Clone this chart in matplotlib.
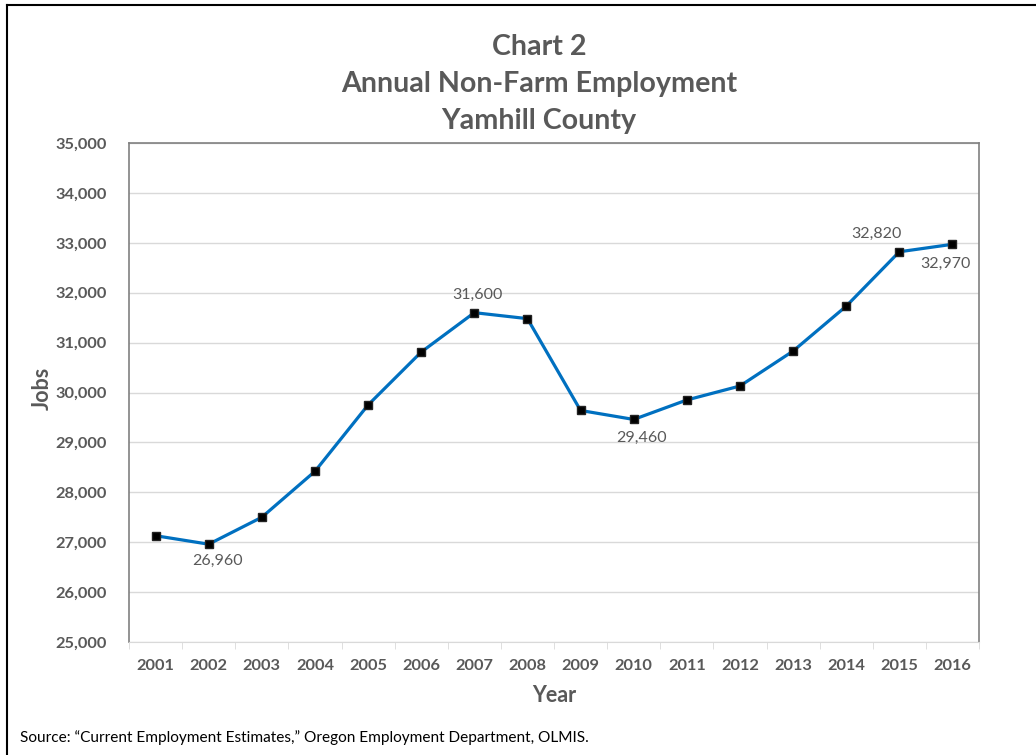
import matplotlib.pyplot as plt
from matplotlib.lines import Line2D
from matplotlib.ticker import FuncFormatter

# data
anos = ['2001', '2002', '2003', '2004', '2005', '2006', '2007', '2008',
        '2009', '2010', '2011', '2012', '2013', '2014', '2015', '2016']
empregos = [27130, 26960, 27500, 28420, 29750, 30810, 31600, 31480,
            29640, 29460, 29850, 30130, 30830, 31730, 32820, 32970]

# which points get a label, and where (pixel offsets)
rotulos = {'2002': (9, -17), '2007': (3, 18), '2010': (8, -18),
           '2015': (-23, 18), '2016': (-7, -20)}

cinza = '#595959'
plt.rcParams['font.family'] = ['Lato', 'DejaVu Sans']

fig = plt.figure(figsize=(10.36, 7.55), dpi=100)
ax = fig.add_axes([129 / 1036, 1 - 642 / 755, 850 / 1036, 499 / 755])

x = list(range(1, len(anos) + 1))
ax.plot(x, empregos, color='#0070C0', linewidth=2.3, zorder=2)
ax.plot(x, empregos, linestyle='none', marker='s', markersize=5.8,
        markerfacecolor='black', markeredgecolor='#222222', zorder=3)

for i, ano in enumerate(anos):
    if ano in rotulos:
        dx, dy = rotulos[ano]
        ax.annotate(f'{empregos[i]:,}', (x[i], empregos[i]),
                    xytext=(dx, dy), textcoords='offset pixels',
                    ha='center', va='center', fontsize=11.5, color=cinza)

ax.set_xlim(0.5, len(anos) + 0.5)
ax.set_ylim(25000, 35000)
ax.set_yticks(range(25000, 35001, 1000))
ax.yaxis.set_major_formatter(FuncFormatter(lambda v, p: f'{int(v):,}'))
ax.set_xticks(x)
ax.set_xticklabels(anos)
ax.set_xticks([i + 0.5 for i in range(len(anos) + 1)], minor=True)

ax.grid(axis='y', color='#D9D9D9', linewidth=1)
ax.set_axisbelow(True)
ax.tick_params(axis='x', which='major', length=0, pad=12)
ax.tick_params(axis='x', which='minor', length=5, color='#D9D9D9', direction='out')
ax.tick_params(axis='y', length=0, pad=16)
for lab in ax.get_xticklabels() + ax.get_yticklabels():
    lab.set_fontweight('bold')
    lab.set_fontsize(11.8)
    lab.set_color(cinza)

for lado in ['left', 'right', 'top']:
    ax.spines[lado].set_color('#808080')
    ax.spines[lado].set_linewidth(1.2)
ax.spines['bottom'].set_color('#D9D9D9')

fig.text(42 / 1036, 1 - 388 / 755, 'Jobs', rotation=90, ha='center', va='center',
         fontsize=15.5, fontweight='bold', color=cinza)
fig.text(554 / 1036, 1 - 696 / 755, 'Year', ha='center', va='center',
         fontsize=15.5, fontweight='bold', color=cinza)

titulo = ['Chart 2', 'Annual Non-Farm Employment', 'Yamhill County']
for k, linha in enumerate(titulo):
    fig.text(539 / 1036, 1 - (47 + 37 * k) / 755, linha, ha='center', va='center',
             fontsize=20.6, fontweight='bold', color=cinza)

fig.text(20 / 1036, 1 - 738 / 755,
         'Source: \u201cCurrent Employment Estimates,\u201d Oregon Employment Department, OLMIS.',
         ha='left', va='center', fontsize=11.1, color='black')

# moldura preta (esquerda e topo)
fig.add_artist(Line2D([7 / 1036, 7 / 1036], [0, 1 - 5 / 755], color='black', linewidth=1.5))
fig.add_artist(Line2D([7 / 1036, 1], [1 - 5 / 755, 1 - 5 / 755], color='black', linewidth=1.5))

fig.savefig('out.png', dpi=100)
